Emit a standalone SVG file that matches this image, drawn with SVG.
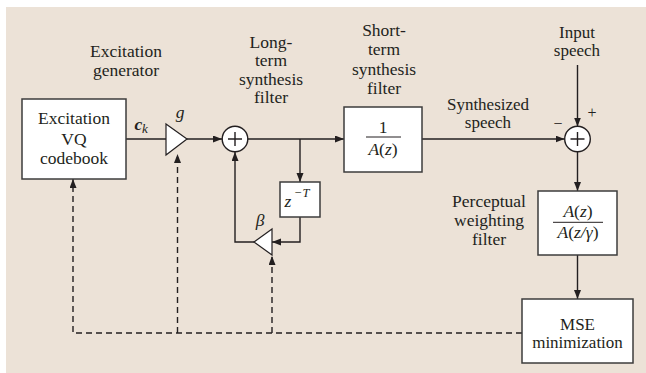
<svg xmlns="http://www.w3.org/2000/svg" width="646" height="373" viewBox="0 0 646 373" font-family="'Liberation Serif', 'Times New Roman', 'DejaVu Serif', serif">
  <defs>
    <marker id="arr" markerUnits="userSpaceOnUse" markerWidth="10" markerHeight="8" refX="9" refY="3.5" orient="auto">
      <path d="M0,0 L9,3.5 L0,7 z" fill="#231f20"/>
    </marker>
  </defs>
  <style>
    .bg { fill: #ece2d7; }
    .box { fill: #ffffff; stroke: #3c3c3c; stroke-width: 1.5; }
    .amp { fill: #ffffff; stroke: #231f20; stroke-width: 1.2; stroke-linejoin: miter; }
    .sum { fill: #ffffff; stroke: #231f20; stroke-width: 1.4; }
    .plus { stroke: #231f20; stroke-width: 1.4; }
    .wire { fill: none; stroke: #231f20; stroke-width: 1.4; }
    .dash { fill: none; stroke: #231f20; stroke-width: 1.4; stroke-dasharray: 6 4; }
    text { font-family: 'Liberation Serif', 'Times New Roman', 'DejaVu Serif', serif; font-size: 17.5px; fill: #231f20; text-anchor: middle; }
    .tight { font-size: 17px; }
    .m { font-style: italic; }
    .sym { font-size: 16px; }
    .st { text-anchor: start; }
    .fr { stroke: #231f20; stroke-width: 1; }
  </style>

  <rect class="bg" x="6" y="7" width="640" height="366"/>

  <!-- free labels -->
  <g id="labels">
    <text x="126" y="57">Excitation</text>
    <text x="126" y="76">generator</text>
    <text x="271" y="47.5">Long-</text>
    <text x="271" y="66">term</text>
    <text x="271" y="84.5">synthesis</text>
    <text x="271" y="103">filter</text>
    <text x="384" y="36">Short-</text>
    <text x="384" y="55">term</text>
    <text x="384" y="74.5">synthesis</text>
    <text x="384" y="94">filter</text>
    <text x="577" y="37.5" class="tight">Input</text>
    <text x="577" y="56" class="tight">speech</text>
    <text x="488" y="109.5" class="tight">Synthesized</text>
    <text x="488" y="128" class="tight">speech</text>
    <text x="489" y="207">Perceptual</text>
    <text x="489" y="226">weighting</text>
    <text x="489" y="245">filter</text>
    <text x="134.5" y="130" class="st" style="font-weight:bold;font-style:italic">c</text>
    <text x="142" y="133" class="m st" style="font-size:13px">k</text>
    <text x="180" y="118" class="m">g</text>
    <text x="260" y="226" class="m">β</text>
    <text x="592" y="118" class="sym">+</text>
    <text x="558" y="129" class="sym">−</text>
  </g>

  <!-- connectors -->
  <g id="connectors">
    <path class="wire" d="M126,139 H166"/>
    <path class="wire" d="M187,139 H222" marker-end="url(#arr)"/>
    <path class="wire" d="M248,139 H344" marker-end="url(#arr)"/>
    <path class="wire" d="M300,139 V182" marker-end="url(#arr)"/>
    <path class="wire" d="M300,217 V242 H272" marker-end="url(#arr)"/>
    <path class="wire" d="M254,242 H235 V152" marker-end="url(#arr)"/>
    <path class="wire" d="M422,139 H564.5" marker-end="url(#arr)"/>
    <path class="wire" d="M577.5,65 V126.5" marker-end="url(#arr)"/>
    <path class="wire" d="M577.5,152 V191" marker-end="url(#arr)"/>
    <path class="wire" d="M577.5,255 V299" marker-end="url(#arr)"/>
    <path class="dash" d="M522,333 H73 V179" marker-end="url(#arr)"/>
    <path class="dash" d="M177.5,333 V154" marker-end="url(#arr)"/>
    <path class="dash" d="M272,333 V256" marker-end="url(#arr)"/>
  </g>

  <!-- codebook -->
  <g id="codebook">
    <rect class="box" x="22" y="99" width="104" height="80"/>
    <text x="74" y="124">Excitation</text>
    <text x="74" y="145">VQ</text>
    <text x="74" y="164">codebook</text>
  </g>

  <!-- gain g -->
  <g id="gain-g">
    <path class="amp" d="M166,124 L187,139 L166,155 z"/>
  </g>

  <!-- first adder -->
  <g id="adder1">
    <circle class="sum" cx="235" cy="139" r="12.8"/>
    <path class="plus" d="M228,139 H242 M235,132 V146"/>
  </g>

  <!-- delay z^-T -->
  <g id="delay">
    <rect class="box" x="280" y="182" width="40" height="35"/>
    <text x="288" y="207" class="m">z</text>
    <text x="294" y="197" class="m st" style="font-size:12.5px">−T</text>
  </g>

  <!-- gain beta -->
  <g id="gain-beta">
    <path class="amp" d="M272,229 L254,242 L272,255 z"/>
  </g>

  <!-- short-term synthesis filter -->
  <g id="short-term">
    <rect class="box" x="344" y="107" width="78" height="65"/>
    <text x="383" y="133">1</text>
    <line class="fr" x1="366" y1="137" x2="401" y2="137"/>
    <text x="383" y="155" class="m">A<tspan font-style="normal">(</tspan>z<tspan font-style="normal">)</tspan></text>
  </g>

  <!-- second adder -->
  <g id="adder2">
    <circle class="sum" cx="577.5" cy="139" r="12.8"/>
    <path class="plus" d="M570.5,139 H584.5 M577.5,132 V146"/>
  </g>

  <!-- perceptual weighting filter -->
  <g id="weighting">
    <rect class="box" x="538" y="191" width="79" height="64"/>
    <text x="578" y="217" class="m">A<tspan font-style="normal">(</tspan>z<tspan font-style="normal">)</tspan></text>
    <line class="fr" x1="553" y1="222.3" x2="603" y2="222.3"/>
    <text x="578" y="238" class="m">A<tspan font-style="normal">(</tspan>z/γ<tspan font-style="normal">)</tspan></text>
  </g>

  <!-- MSE minimization -->
  <g id="mse">
    <rect class="box" x="522" y="299" width="111" height="64"/>
    <text x="577.5" y="329.5" class="tight">MSE</text>
    <text x="577.5" y="348" class="tight">minimization</text>
  </g>
</svg>
